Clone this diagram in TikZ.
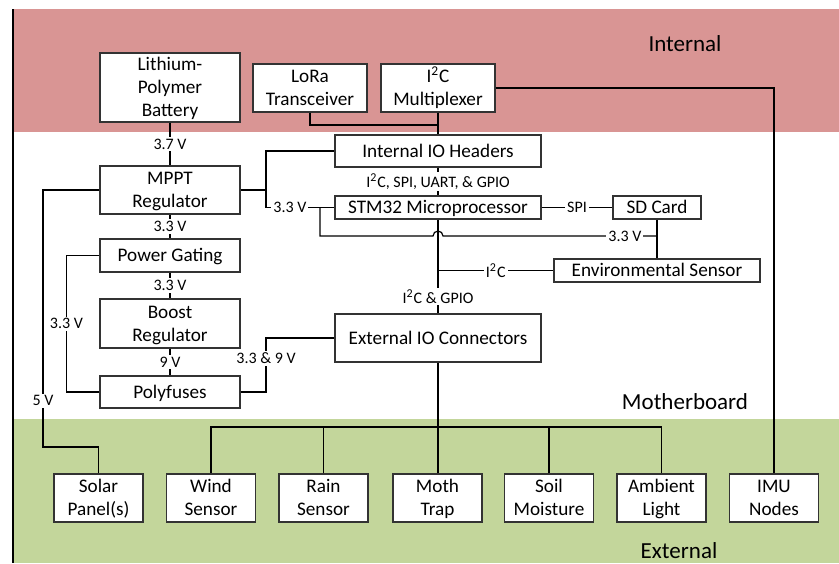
\documentclass[tikz,border=0pt]{standalone}
\usepackage{fontspec}
\setmainfont{Carlito}
\usepackage{xcolor}
\usetikzlibrary{positioning, calc}
\definecolor{intred}{RGB}{217,149,148}
\definecolor{extgreen}{RGB}{195,214,155}
\newcommand{\bs}{\rule[-2.6pt]{0pt}{11.5pt}}

\begin{document}
\begin{tikzpicture}[x=0.5pt, y=-0.5pt,
    box/.style={draw=black!80, fill=white, line width=0.6pt, minimum width=70pt, minimum height=24pt, inner sep=0pt, align=center,
        font=\fontsize{9.6}{11.5}\selectfont, execute at end node=\bs},
    wbox/.style={box, minimum width=103pt},
    sbox/.style={box, minimum width=44.5pt},
    lbl/.style={font=\fontsize{11.5}{13}\selectfont},
    tag/.style={fill=white, inner sep=1pt, font=\fontsize{8}{9.6}\selectfont},
    wire/.style={line width=0.6pt},
]
\useasboundingbox (0,0) rectangle (839,563);

% Regions
\fill[intred] (13,9) rectangle (839,132);
\fill[extgreen] (13,419) rectangle (839,563);
\draw[wire] (13,9) -- (13,563);
\node[lbl] (tint) at (685,44) {Internal};
\node[lbl] (tmb) at (685,402) {Motherboard};
\node[lbl] (text) at (679,551) {External};

% Internal
\node[box, minimum height=34.5pt] (batt) at (170,87.5) {\bs Lithium-\\Polymer\\Battery};
\node[box, minimum width=57pt] (lora) at (310,88) {\bs LoRa\\Transceiver};
\node[box, minimum width=57pt] (mux) at (438,88) {\bs I\textsuperscript{2}C\\Multiplexer};

% Motherboard
\node[wbox, minimum height=16pt] (iohdr) at (438,151) {Internal IO Headers};
\node[box] (mppt) at (170,190) {\bs MPPT\\Regulator};
\node[wbox, minimum height=11.5pt] (stm) at (438,207.5) {STM32 Microprocessor};
\node[box, minimum width=44pt, minimum height=11.5pt] (sd) at (657,207.5) {SD Card};
\node[box, minimum height=16.5pt] (pg) at (170,255.5) {Power Gating};
\node[wbox, minimum height=11.5pt] (env) at (657,270.5) {Environmental Sensor};
\node[box, minimum height=24.5pt] (boost) at (170,323.5) {\bs Boost\\Regulator};
\node[wbox] (extio) at (438,338) {External IO Connectors};
\node[box, minimum height=16pt] (poly) at (170,392) {Polyfuses};

% External
\node[sbox] (solar) at (98.5,498) {\bs Solar\\Panel(s)};
\node[sbox] (wind) at (211,498) {\bs Wind\\Sensor};
\node[sbox] (rain) at (323.5,498) {\bs Rain\\Sensor};
\node[sbox] (moth) at (437.5,498) {\bs Moth\\Trap};
\node[sbox] (soil) at (549,498) {\bs Soil\\Moisture};
\node[sbox] (amb) at (661.5,498) {\bs Ambient\\Light};
\node[sbox] (imu) at (774,498) {\bs IMU\\Nodes};

\coordinate (lj) at (438,125);
\coordinate (pj) at (266,190);
\coordinate (vj) at (320,207.5);
\coordinate (hop) at (438,236);
\coordinate (ej) at (438,270.5);
\coordinate (pk) at (266,338);
\coordinate (sk) at (43,447);
\coordinate (bus) at (438,427);

% power
\draw[wire] (batt) -- node[tag] {3.7 V} (mppt);
\draw[wire] (mppt) -- node[tag] {3.3 V} (pg);
\draw[wire] (pg) -- node[tag] {3.3 V} (boost);
\draw[wire] (boost) -- node[tag] {9 V} (poly);
\draw[wire] (pg.west) -- ++(-33,0) |- node[tag, pos=0.25] {3.3 V} (poly.west);
\draw[wire] (mppt.west) -| node[tag, pos=0.91] {5 V} (sk) -| (solar.north);
\draw[wire] (poly.east) -| node[tag, pos=0.81] {3.3 \& 9 V} (pk) -- (extio.west);
\draw[wire] (mppt.east) -- (pj) |- (iohdr.west);
\draw[wire] (pj) |- node[tag, pos=0.675] {3.3 V} (stm.west);
\draw[wire] (vj) |- ([xshift=-2.5pt]hop) arc[start angle=180, end angle=0, radius=2.5pt]
    -- node[tag, pos=0.85] {3.3 V} (sd.south |- hop);
\draw[wire] (sd) -- (env);

% data
\draw[wire] (mux) -- (iohdr);
\draw[wire] (lora.south) |- (lj);
\draw[wire] (mux.east) -| (imu.north);
\draw[wire] (iohdr) -- node[tag] {I\textsuperscript{2}C, SPI, UART, \& GPIO} (stm);
\draw[wire] (stm) -- node[tag] {SPI} (sd);
\draw[wire] (stm) -- node[tag, pos=0.82] {I\textsuperscript{2}C \& GPIO} (extio);
\draw[wire] (ej) -- node[tag] {I\textsuperscript{2}C} (env.west);
\draw[wire] (extio.south) -- (extio.south |- moth.north);
\draw[wire] (wind.north) |- (bus) -| (amb.north);
\draw[wire] (rain.north) -- (rain.north |- bus);
\draw[wire] (soil.north) -- (soil.north |- bus);

\end{tikzpicture}
\end{document}
